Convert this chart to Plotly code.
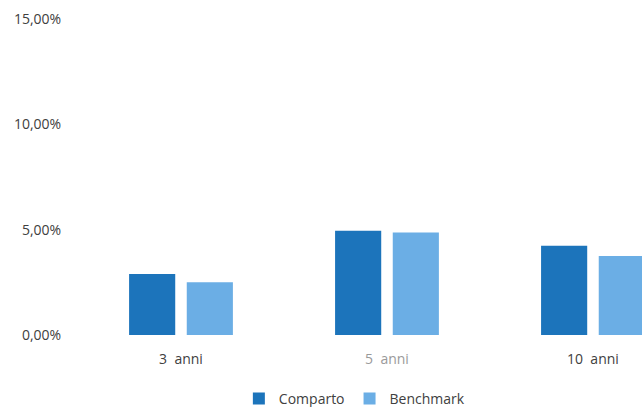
import plotly.graph_objects as go

# Rendimenti medi annui per orizzonte temporale
categories = ["3 anni", "5 anni", "10 anni"]
comparto = [2.90, 4.95, 4.24]
benchmark = [2.50, 4.87, 3.75]

y_tick_values = [0, 5, 10, 15]
y_tick_labels = ["0,00%", "5,00%", "10,00%", "15,00%"]

font_family = "Open Sans, Noto Sans, sans-serif"
text_color = "#404040"

fig = go.Figure()
fig.add_trace(go.Bar(name="Comparto", x=categories, y=comparto,
                     marker=dict(color="#1C74BB", line=dict(width=0))))
fig.add_trace(go.Bar(name="Benchmark", x=categories, y=benchmark,
                     marker=dict(color="#6BAEE5", line=dict(width=0))))

# "5 anni" is printed in a lighter grey
x_tick_text = ["3  anni", "<span style='color:#9a9a9a'>5  anni</span>", "10  anni"]

fig.update_layout(
    width=642, height=407,
    margin=dict(l=78, r=0, t=19, b=72),
    paper_bgcolor="white", plot_bgcolor="white",
    barmode="group", bargap=0.44, bargroupgap=0.2,
    font=dict(family=font_family, size=14, color=text_color),
    showlegend=True,
    legend=dict(orientation="h", xref="paper", x=0.49, xanchor="center",
                yref="container", y=0.02, yanchor="middle",
                font=dict(size=14, color=text_color),
                itemwidth=30, traceorder="normal"),
    xaxis=dict(range=[-0.5, 2.238], showgrid=False, showline=False, zeroline=False,
               tickvals=categories, ticktext=x_tick_text,
               ticks="outside", ticklen=11, tickcolor="rgba(0,0,0,0)",
               tickfont=dict(size=14, color=text_color)),
    yaxis=dict(range=[0, 15], showgrid=False, showline=False, zeroline=False,
               tickvals=y_tick_values, ticktext=y_tick_labels,
               ticks="outside", ticklen=13, tickcolor="rgba(0,0,0,0)",
               tickfont=dict(size=14, color=text_color)),
)

fig.write_html("out.html")
